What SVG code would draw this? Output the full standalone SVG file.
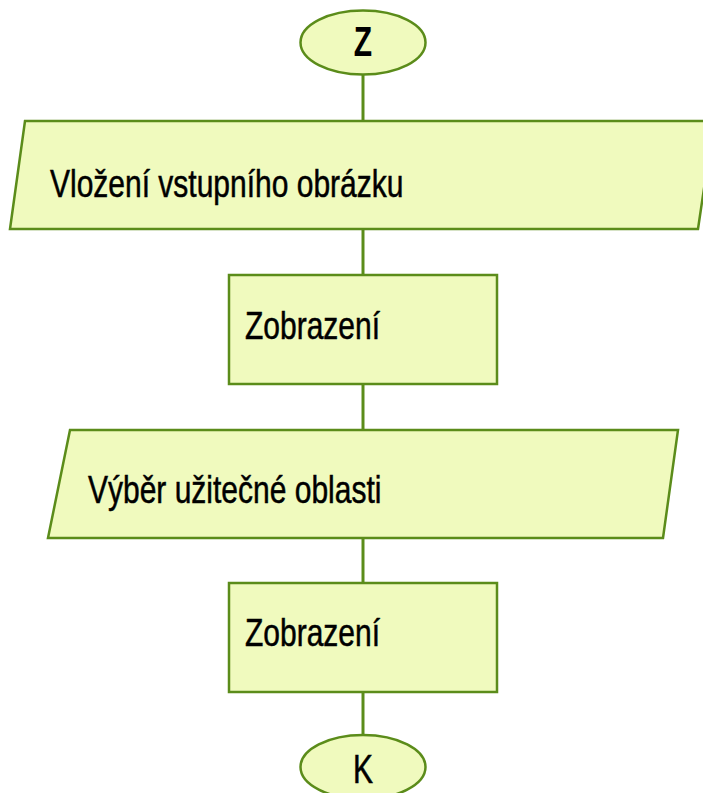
<svg xmlns="http://www.w3.org/2000/svg" width="703" height="793" viewBox="0 0 703 793">
<style>
.shape{fill:#f0fabe;stroke:#5b8c1a;stroke-width:2.5}
.conn{stroke:#5b8c1a;stroke-width:3;fill:none}
.lbl{font-family:"Liberation Sans",Arial,sans-serif;font-size:30px;fill:#000;stroke:#000;stroke-width:0.4}
.term{font-weight:bold;stroke-width:0}
</style>
<rect width="703" height="793" fill="#ffffff"/>
<g id="connectors">
<line class="conn" x1="363" y1="75" x2="363" y2="121"/>
<line class="conn" x1="363" y1="229" x2="363" y2="275"/>
<line class="conn" x1="363" y1="384" x2="363" y2="430"/>
<line class="conn" x1="363" y1="538" x2="363" y2="583"/>
<line class="conn" x1="363" y1="692" x2="363" y2="735"/>
</g>
<g id="start">
<ellipse class="shape" cx="363" cy="42.5" rx="62.5" ry="32"/>
<text class="lbl term" text-anchor="middle" transform="translate(363,56) scale(1,1.4)">Z</text>
</g>
<g id="input">
<polygon class="shape" points="25,121 714,121 698,229 10,229"/>
<text class="lbl" transform="translate(50,197) scale(1,1.3)">Vložení vstupního obrázku</text>
</g>
<g id="display1">
<rect class="shape" x="229" y="275" width="268" height="109"/>
<text class="lbl" transform="translate(245,339) scale(1,1.3)">Zobrazení</text>
</g>
<g id="select">
<polygon class="shape" points="70,430 678,430 663,538 48,538"/>
<text class="lbl" transform="translate(88,503) scale(1,1.3)">Výběr užitečné oblasti</text>
</g>
<g id="display2">
<rect class="shape" x="229" y="583" width="268" height="109"/>
<text class="lbl" transform="translate(245,646) scale(1,1.3)">Zobrazení</text>
</g>
<g id="end">
<ellipse class="shape" cx="363" cy="767" rx="62.5" ry="32"/>
<text class="lbl" text-anchor="middle" transform="translate(363,783) scale(1,1.35)">K</text>
</g>
</svg>
